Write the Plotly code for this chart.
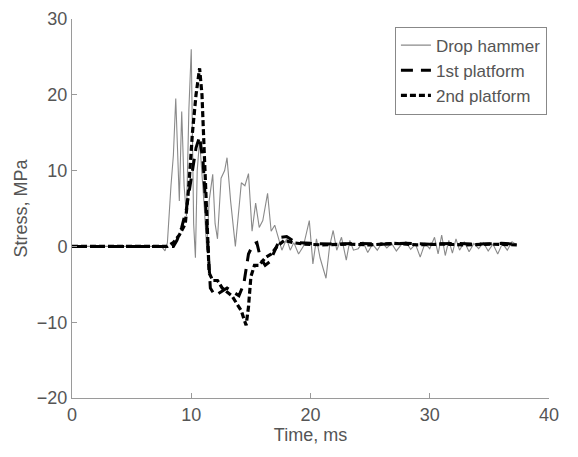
import plotly.graph_objects as go

# Drop hammer (thin grey line)
t_hammer = [0, 7.5, 7.8, 8.0, 8.3, 8.5, 8.7, 8.9, 9.0, 9.2, 9.4, 9.6, 9.8, 10.0, 10.2, 10.35,
            10.5, 10.7, 10.9, 11.1, 11.3, 11.5, 11.8, 12.0, 12.2, 12.5, 12.8, 13.0, 13.3, 13.7,
            14.0, 14.2, 14.5, 14.8, 15.1, 15.4, 15.7, 16.0, 16.4, 16.7, 17.0, 17.3, 17.6, 18.0,
            18.3, 18.6, 19.0, 19.4, 19.9, 20.2, 20.5, 20.8, 21.3, 21.6, 21.9, 22.2, 22.6, 23.0,
            23.3, 23.6, 24.0, 24.4, 24.8, 25.2, 25.6, 26.0, 26.4, 26.8, 27.2, 27.6, 28.0, 28.4,
            28.8, 29.2, 29.6, 30.0, 30.4, 30.7, 31.0, 31.3, 31.6, 31.9, 32.2, 32.5, 32.9, 33.3,
            33.7, 34.1, 34.5, 34.9, 35.3, 35.7, 36.1, 36.5, 36.9, 37.3]
s_hammer = [0, 0, -0.6, 0.5, 8, 12, 19.5, 10, 6, 17.8, 8, 4, 18, 26, 3, -1.5,
            10, 14, 10, 5, -0.5, 6, 9.5, 3, 1, 9, 10, 11.7, 6, 0,
            5, 8.4, 8, 9.6, 2, 5.7, 2.5, 3.4, 7, 2, 2.8, 1, -0.5, 1,
            -0.5, 0.5, -1, 0, 3.4, -2.3, 1, -1.5, -4.2, 0, 2.1, -0.5, 1.2, -1.8,
            0.8, -0.5, -0.3, 0.6, -0.8, 0.3, -0.5, 0.5, -0.2, 0.4, -0.6, 0.2, 0.6, -0.4,
            0.3, -1.4, 0.4, -0.3, 1.2, -1.0, 1.5, -1.2, 0.8, -0.9, 1.0, -0.5, 0.6, -0.7,
            0.4, -0.3, 0.5, -0.6, 0.3, -1.0, 0.4, -0.5, 0.6, 0.2]

# 1st platform (long dashes)
t_p1 = [0, 8.5, 8.8, 9.2, 9.6, 10.0, 10.4, 10.7, 11.0, 11.3, 11.6, 12.0, 12.5, 13.0, 13.5,
        14.0, 14.4, 14.8, 15.2, 15.5, 15.8, 16.2, 16.6, 17.0, 17.5, 18.0, 18.5, 19.0, 20,
        22, 24, 26, 28, 30, 32, 34, 36, 37.3]
s_p1 = [0, 0, 0.8, 2.5, 5, 9, 13, 14.5, 11, 3, -5.5, -6.5, -6, -5.5, -6,
        -6.5, -5, -1, 0.3, 0.5, -1.5, -2.5, -2, -0.5, 1.2, 1.3, 0.8, 0.5, 0.4,
        0.3, 0.4, 0.3, 0.4, 0.3, 0.4, 0.3, 0.4, 0.3]

# 2nd platform (short dashes)
t_p2 = [0, 8.0, 8.5, 9.0, 9.5, 9.8, 10.1, 10.4, 10.7, 10.9, 11.1, 11.3, 11.5, 11.8, 12.2,
        12.6, 13.0, 13.4, 13.8, 14.2, 14.4, 14.6, 14.8, 15.0, 15.3, 15.7, 16.2, 16.7, 17.2,
        17.8, 18.5, 19.5, 21, 23, 25, 27, 29, 31, 33, 35, 37.3]
s_p2 = [0, 0, 0.5, 1.5, 3, 8, 15, 20, 23.5, 20, 12, 3, -3.5, -4.5, -4.5,
        -5.5, -6, -6.5, -7.5, -8.5, -9.5, -10.4, -8, -4, -2.5, -2.5, -1.5, -1, 0,
        0.8, 0.5, 0.3, 0.2, 0.3, 0.2, 0.4, 0.2, 0.3, 0.2, 0.3, 0.2]

x_ticks = [0, 10, 20, 30, 40]
y_ticks = [-20, -10, 0, 10, 20, 30]

FONT = "Liberation Sans, Arial, sans-serif"
TXT = "#555555"
AX = "#9a9a9a"

fig = go.Figure()
fig.add_trace(go.Scatter(x=t_hammer, y=s_hammer, mode="lines", name="Drop hammer",
                         line=dict(color="#8a8a8a", width=1.1)))
fig.add_trace(go.Scatter(x=t_p1, y=s_p1, mode="lines", name="1st platform",
                         line=dict(color="black", width=3, dash="12px,8px")))
fig.add_trace(go.Scatter(x=t_p2, y=s_p2, mode="lines", name="2nd platform",
                         line=dict(color="black", width=3.2, dash="6px,3px")))

fig.update_layout(
    width=570, height=449,
    margin=dict(l=64, r=29, t=11, b=59),
    paper_bgcolor="white", plot_bgcolor="white",
    font=dict(family=FONT, size=18, color=TXT),
    showlegend=True,
    legend=dict(x=0.677, y=0.98, xanchor="left", yanchor="top",
                bgcolor="white", bordercolor="#888888", borderwidth=1,
                font=dict(size=17, color=TXT), tracegroupgap=0,
                itemwidth=30),
)
fig.update_xaxes(range=[0, 40], tickvals=x_ticks, ticks="inside", ticklen=5,
                 tickcolor=AX, showline=True, linecolor=AX, linewidth=1,
                 showgrid=False, zeroline=False, mirror=False, automargin=True,
                 title=dict(text="Time, ms", font=dict(size=18, color=TXT), standoff=4))
fig.update_yaxes(range=[-20, 30], tickvals=y_ticks, ticks="inside", ticklen=5,
                 tickcolor=AX, showline=True, linecolor=AX, linewidth=1,
                 showgrid=False, zeroline=False, mirror=False, automargin="left",
                 title=dict(text="Stress, MPa", font=dict(size=18, color=TXT), standoff=4))

fig.write_html("out.html")
